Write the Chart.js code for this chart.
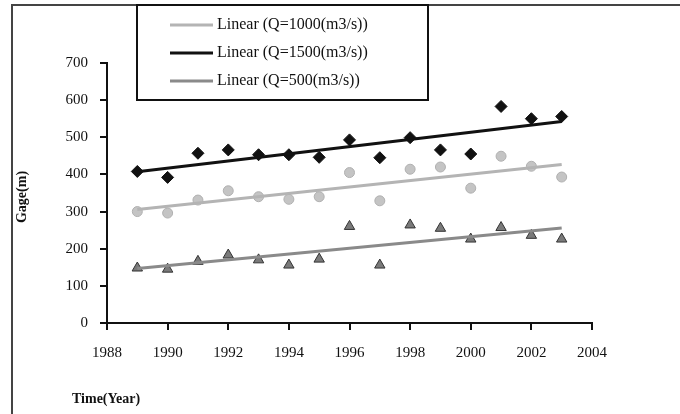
<!DOCTYPE html>
<html>
<head>
<meta charset="utf-8">
<script src="https://cdn.jsdelivr.net/npm/chart.js@4/dist/chart.umd.min.js"></script>
<style>
  html, body { margin: 0; padding: 0; background: #fff; }
  #wrap { width: 680px; height: 414px; }
</style>
</head>
<body>
<div id="wrap"><canvas id="gageChart" width="680" height="414"></canvas></div>
<script>
// data
const years = [1989, 1990, 1991, 1992, 1993, 1994, 1995, 1996, 1997, 1998, 1999, 2000, 2001, 2002, 2003];
const q1500 = [408, 392, 457, 466, 453, 453, 446, 493, 445, 499, 466, 455, 583, 550, 556];
const q1000 = [300, 296, 331, 356, 340, 333, 340, 405, 329, 414, 420, 363, 449, 422, 393];
const q500 = [148, 145, 166, 183, 170, 156, 172, 260, 156, 264, 255, 226, 257, 236, 226];
const legendLabels = ["Linear (Q=1000(m3/s))", "Linear (Q=1500(m3/s))", "Linear (Q=500(m3/s))"];

const serif = "'Liberation Serif', 'DejaVu Serif', serif";

function points(vals) {
  return years.map((y, i) => ({ x: y, y: vals[i] }));
}

// least squares trend, like the spreadsheet "Linear" trendline
function trend(vals) {
  const n = years.length;
  const mx = years.reduce((a, b) => a + b, 0) / n;
  const my = vals.reduce((a, b) => a + b, 0) / n;
  let sxy = 0, sxx = 0;
  years.forEach((x, i) => { sxy += (x - mx) * (vals[i] - my); sxx += (x - mx) * (x - mx); });
  const b = sxy / sxx;
  const a = my - b * mx;
  const x0 = years[0], x1 = years[n - 1];
  return [{ x: x0, y: a + b * x0 }, { x: x1, y: a + b * x1 }];
}

// frame, legend box and axis titles
const decorations = {
  id: "decorations",
  afterDraw(chart) {
    const ctx = chart.ctx;
    ctx.save();
    // outer frame
    ctx.strokeStyle = "#444";
    ctx.lineWidth = 2;
    ctx.beginPath();
    ctx.moveTo(12, 414);
    ctx.lineTo(12, 5);
    ctx.lineTo(680, 5);
    ctx.stroke();

    // legend
    ctx.fillStyle = "#fff";
    ctx.fillRect(137, 5, 291, 95);
    ctx.strokeStyle = "#111";
    ctx.lineWidth = 2;
    ctx.strokeRect(137, 5, 291, 95);
    const colors = ["#b4b4b4", "#111111", "#8a8a8a"];
    const rows = [25, 53, 81];
    ctx.font = "16px " + serif;
    ctx.textBaseline = "middle";
    ctx.textAlign = "left";
    rows.forEach((ry, i) => {
      ctx.strokeStyle = colors[i];
      ctx.lineWidth = 3;
      ctx.beginPath();
      ctx.moveTo(170, ry);
      ctx.lineTo(213, ry);
      ctx.stroke();
      ctx.fillStyle = "#111";
      ctx.fillText(legendLabels[i], 217, ry);
    });

    // axis titles
    ctx.fillStyle = "#111";
    ctx.font = "bold 14px " + serif;
    ctx.fillText("Time(Year)", 72, 399);
    ctx.translate(22, 197);
    ctx.rotate(-Math.PI / 2);
    ctx.textAlign = "center";
    ctx.fillText("Gage(m)", 0, 0);
    ctx.restore();
  }
};

const dotOpts = { showLine: false, borderWidth: 1 };
const lineOpts = { showLine: true, pointRadius: 0, borderWidth: 3, fill: false };

new Chart(document.getElementById("gageChart").getContext("2d"), {
  type: "scatter",
  data: {
    datasets: [
      { ...lineOpts, label: legendLabels[0], data: trend(q1000), borderColor: "#b4b4b4" },
      { ...lineOpts, label: legendLabels[1], data: trend(q1500), borderColor: "#111111" },
      { ...lineOpts, label: legendLabels[2], data: trend(q500), borderColor: "#8a8a8a" },
      { ...dotOpts, label: "Q=1500", data: points(q1500), pointStyle: "rectRot", pointRadius: 6,
        backgroundColor: "#111", borderColor: "#111" },
      { ...dotOpts, label: "Q=1000", data: points(q1000), pointStyle: "circle", pointRadius: 5,
        backgroundColor: "#c4c4c4", borderColor: "#b0b0b0" },
      { ...dotOpts, label: "Q=500", data: points(q500), pointStyle: "triangle", pointRadius: 6,
        backgroundColor: "#7a7a7a", borderColor: "#333" }
    ]
  },
  options: {
    responsive: false,
    animation: false,
    layout: { padding: { left: 12, top: 63, right: 88, bottom: 0 } },
    plugins: { legend: { display: false }, tooltip: { enabled: false } },
    scales: {
      x: {
        type: "linear",
        min: 1988,
        max: 2004,
        afterFit(scale) { scale.height = 91; },
        ticks: { stepSize: 2, padding: 14, color: "#111", font: { family: serif, size: 15 },
          callback: (v) => String(v) },
        grid: { drawOnChartArea: false, drawTicks: true, tickLength: 7, color: "#111", lineWidth: 2 },
        border: { color: "#111", width: 2 }
      },
      y: {
        min: 0,
        max: 700,
        afterFit(scale) { scale.width = 95; },
        ticks: { stepSize: 100, padding: 12, color: "#111", font: { family: serif, size: 15 } },
        grid: { drawOnChartArea: false, drawTicks: true, tickLength: 7, color: "#111", lineWidth: 2 },
        border: { color: "#111", width: 2 }
      }
    }
  },
  plugins: [decorations]
});
</script>
</body>
</html>
